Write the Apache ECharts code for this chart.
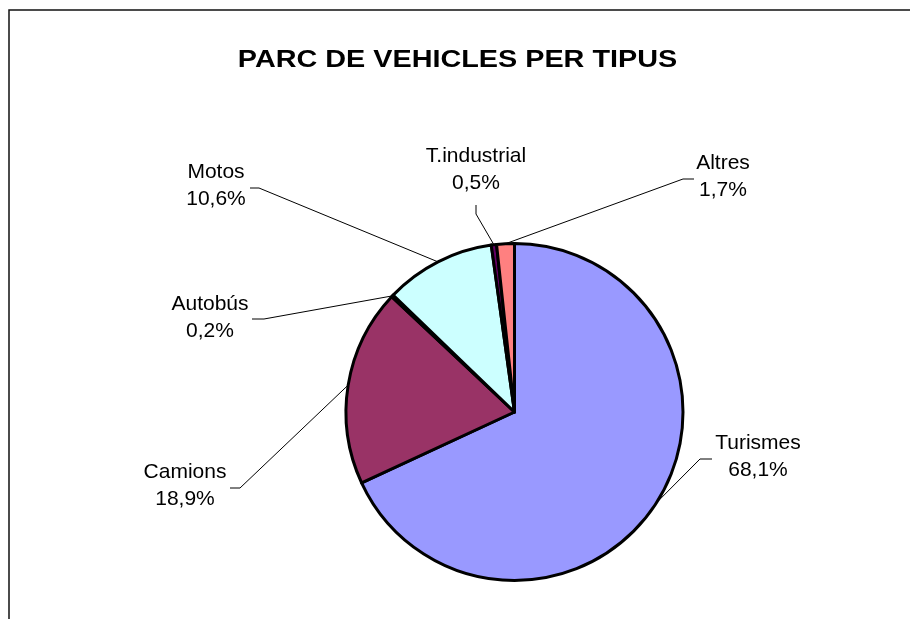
<!DOCTYPE html>
<html>
<head>
<meta charset="utf-8">
<script src="https://cdn.jsdelivr.net/npm/echarts@6/dist/echarts.min.js"></script>
<style>
  html, body { margin: 0; padding: 0; background: #fff; }
  #chart { width: 910px; height: 619px; }
</style>
</head>
<body>
<div id="chart"></div>
<script>
const categories = ['Turismes', 'Camions', 'Autobús', 'Motos', 'T.industrial', 'Altres'];
const shares = [68.1, 18.9, 0.2, 10.6, 0.5, 1.7];
const colors = ['#9999FF', '#993366', '#FFFFCC', '#CCFFFF', '#660066', '#FF8080'];

// where Excel put each label (centre of the text block) and its leader line bend / end
const labelPos = [[758, 457], [185, 486], [210, 318], [216, 186], [476, 170], [723, 177]];
const leaderBend = [[700, 459], [240, 488], [264, 319], [259, 188], [476, 214], [683, 179]];
const leaderEnd = [[712, 459], [230, 488], [252, 319], [250, 188], [476, 205], [694, 179]];

const FONT = "'Liberation Sans', Arial, sans-serif";

const chart = echarts.init(document.getElementById('chart'));

const option = {
  backgroundColor: '#fff',
  animation: false,
  graphic: [
    {
      type: 'rect',
      shape: { x: 9, y: 10, width: 1200, height: 1200 },
      style: { fill: 'none', stroke: '#111', lineWidth: 1.5 },
      silent: true
    },
    {
      type: 'text',
      x: 457.5,
      y: 60.5,
      scaleX: 1.175,
      style: {
        text: 'PARC DE VEHICLES PER TIPUS',
        font: 'bold 24.5px ' + FONT,
        fill: '#000',
        textAlign: 'center',
        textVerticalAlign: 'middle'
      },
      silent: true
    }
  ],
  series: [{
    type: 'pie',
    center: [514.5, 412],
    radius: 168.5,
    startAngle: 90,
    clockwise: true,
    silent: true,
    emphasis: { disabled: true },
    data: categories.map((name, i) => ({
      name: name,
      value: shares[i],
      itemStyle: { color: colors[i] }
    })),
    itemStyle: { borderColor: '#000', borderWidth: 3 },
    label: {
      show: true,
      position: 'outside',
      color: '#000',
      fontFamily: FONT,
      fontSize: 21,
      lineHeight: 27,
      align: 'center',
      formatter: p => p.name + '\n' + p.value.toFixed(1).replace('.', ',') + '%'
    },
    labelLine: {
      show: true,
      length: 10,
      length2: 10,
      lineStyle: { color: '#000', width: 1 }
    },
    labelLayout: params => {
      const i = params.dataIndex;
      const start = params.labelLinePoints ? params.labelLinePoints[0] : leaderBend[i];
      return {
        x: labelPos[i][0],
        y: labelPos[i][1],
        align: 'center',
        verticalAlign: 'middle',
        labelLinePoints: [start, leaderBend[i], leaderEnd[i]]
      };
    }
  }]
};

chart.setOption(option);
</script>
</body>
</html>
